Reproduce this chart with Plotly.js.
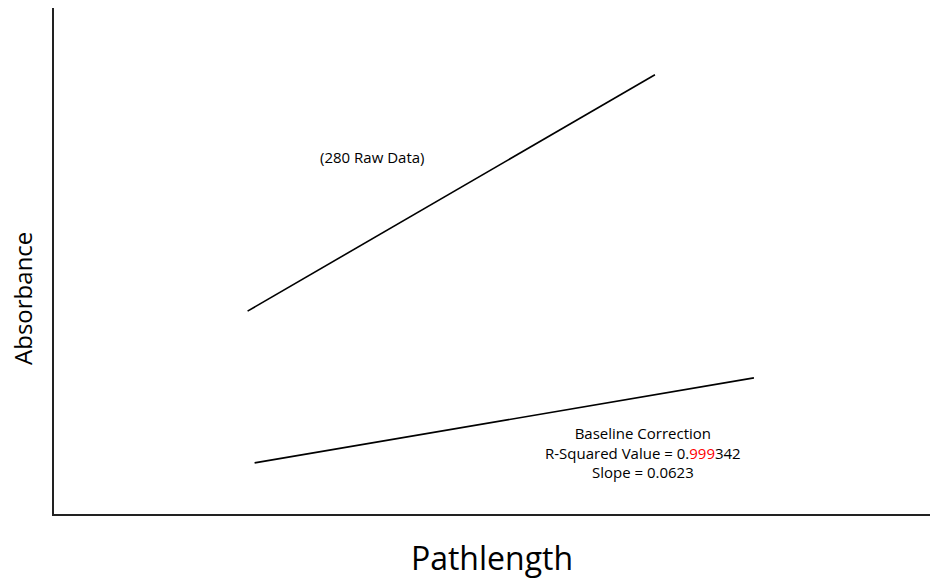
<!DOCTYPE html>
<html>
<head>
<meta charset="utf-8">
<script src="https://cdn.plot.ly/plotly-3.0.1.min.js"></script>
<style>html,body{margin:0;padding:0;background:#fff;}#chart{width:932px;height:579px;}</style>
</head>
<body>
<div id="chart"></div>
<script>
// Raw data (280) line
const rawX = [2.21, 6.86];
const rawY = [4.01, 8.68];
// Baseline correction line
const baseX = [2.29, 7.99];
const baseY = [1.01, 2.69];

const rawLabel = "(280 Raw Data)";
const baseLabel = "Baseline Correction<br>R-Squared Value = 0.<span style=\"color:#ff0000\">999</span>342<br>Slope = 0.0623";
const xTitle = "Pathlength";
const yTitle = "Absorbance";

const traces = [
  {x: rawX, y: rawY, mode: 'lines', line: {color: '#000', width: 1.6}, showlegend: false, hoverinfo: 'skip'},
  {x: baseX, y: baseY, mode: 'lines', line: {color: '#000', width: 1.6}, showlegend: false, hoverinfo: 'skip'}
];

const layout = {
  width: 932, height: 579,
  margin: {l: 54, r: 2, t: 8, b: 65},
  paper_bgcolor: '#fff', plot_bgcolor: '#fff',
  font: {family: 'Open Sans, sans-serif', color: '#000'},
  xaxis: {
    range: [0, 10], showline: true, linecolor: '#222', linewidth: 1.6,
    showgrid: false, zeroline: false, showticklabels: false, ticks: '',
    title: {text: xTitle, font: {size: 32, color: '#000'}, standoff: 34}
  },
  yaxis: {
    range: [0, 10], showline: true, linecolor: '#222', linewidth: 1.6,
    showgrid: false, zeroline: false, showticklabels: false, ticks: ''
  },
  annotations: [
    {x: -0.0354, y: 0.427, xref: 'paper', yref: 'paper', text: yTitle, textangle: -90,
     xanchor: 'center', yanchor: 'middle', showarrow: false, font: {size: 24, color: '#000'}},
    {x: 3.64, y: 7.05, xref: 'x', yref: 'y', text: rawLabel, showarrow: false, font: {size: 15, color: '#000'}},
    {x: 6.72, y: 1.225, xref: 'x', yref: 'y', text: baseLabel, showarrow: false, align: 'center', font: {size: 15, color: '#000'}}
  ]
};

Plotly.newPlot('chart', traces, layout, {displayModeBar: false, staticPlot: true});
</script>
</body>
</html>
